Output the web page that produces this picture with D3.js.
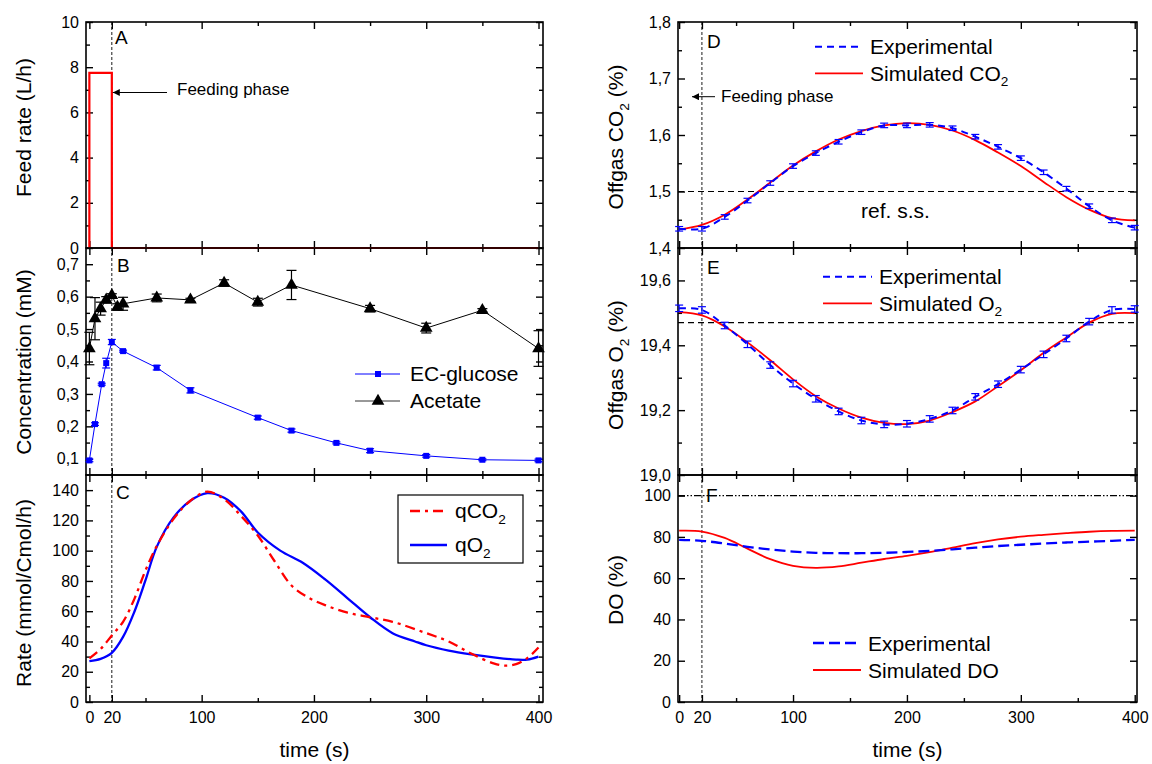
<!DOCTYPE html>
<html><head><meta charset="utf-8">
<script src="https://cdn.jsdelivr.net/npm/d3@7"></script>
<style>body{margin:0;background:#fff} svg{display:block}</style>
</head><body><svg id="c" width="1152" height="764"></svg>
<script>
// ---------------- data ----------------
const xMajor = [0, 20, 100, 200, 300, 400];
const xMinor = [50, 150, 250, 350];

// A: feed rate
const feedTime = [0, 0, 20, 20, 400];
const feedRate = [0, 7.75, 7.75, 0, 0];

// B: concentrations
const glcTime = [0, 5, 11, 15, 20, 30, 60, 90, 150, 180, 220, 250, 300, 350, 400];
const glcConc = [0.095, 0.207, 0.33, 0.395, 0.46, 0.432, 0.381, 0.311, 0.227, 0.187, 0.149, 0.125, 0.109, 0.097, 0.095];
const glcErr  = [0.004, 0.004, 0.003, 0.015, 0.008, 0.003, 0.007, 0.008, 0.005, 0.005, 0.003, 0.006, 0.004, 0.003, 0.004];
const acTime = [0, 5, 10, 15, 20, 25, 30, 60, 90, 120, 150, 180, 250, 300, 350, 400];
const acConc = [0.44, 0.532, 0.563, 0.59, 0.604, 0.568, 0.578, 0.596, 0.59, 0.642, 0.583, 0.636, 0.563, 0.503, 0.558, 0.44];
const acErr  = [0.05, 0.065, 0.02, 0.01, 0.005, 0.01, 0.02, 0.012, 0.005, 0.01, 0.012, 0.045, 0.01, 0.015, 0.005, 0.055];

// C: rates
const qCO2Time = [0, 10, 20, 30, 40, 50, 60, 75, 90, 105, 120, 135, 150, 165, 180, 195, 210, 230, 250, 270, 300, 320, 340, 360, 370, 380, 390, 400];
const qCO2 = [28.8, 35, 44, 53, 68, 87, 103, 121, 133, 139, 134, 123, 110, 93, 77, 69, 64, 59, 56, 53, 45.5, 40, 32, 25.5, 24, 25, 29, 36];
const qO2Time = [0, 10, 20, 30, 40, 50, 60, 75, 90, 105, 120, 135, 150, 170, 190, 210, 230, 250, 270, 290, 300, 320, 340, 360, 380, 390, 400];
const qO2 = [27, 28.5, 32.5, 43, 59.5, 80.5, 102.5, 122, 133, 138, 135, 126, 112, 100, 92, 81, 68.5, 56, 45.5, 40, 37.5, 34, 31.5, 29.5, 28, 28, 30];

// D, E, F: off-gas and DO (sampled every 20 s)
const gasTime = [0, 20, 40, 60, 80, 100, 120, 140, 160, 180, 200, 220, 240, 260, 280, 300, 320, 340, 360, 380, 400];
const co2Exp = [1.434, 1.434, 1.455, 1.484, 1.515, 1.545, 1.568, 1.588, 1.605, 1.617, 1.617, 1.618, 1.612, 1.597, 1.579, 1.559, 1.534, 1.505, 1.474, 1.449, 1.436];
const co2Err = [0.004, 0.004, 0.004, 0.004, 0.004, 0.004, 0.004, 0.004, 0.004, 0.004, 0.004, 0.004, 0.004, 0.004, 0.004, 0.004, 0.004, 0.004, 0.004, 0.004, 0.004];
const co2Sim = [1.433, 1.441, 1.459, 1.486, 1.516, 1.546, 1.571, 1.592, 1.607, 1.617, 1.621, 1.618, 1.608, 1.591, 1.569, 1.545, 1.517, 1.490, 1.468, 1.453, 1.449];
const o2Exp = [19.514, 19.509, 19.461, 19.403, 19.339, 19.282, 19.235, 19.196, 19.168, 19.156, 19.158, 19.173, 19.199, 19.241, 19.280, 19.325, 19.372, 19.421, 19.473, 19.509, 19.512];
const o2Err = [0.01, 0.01, 0.01, 0.01, 0.01, 0.01, 0.01, 0.01, 0.01, 0.01, 0.01, 0.01, 0.01, 0.01, 0.01, 0.01, 0.01, 0.01, 0.01, 0.01, 0.01];
const o2Sim = [19.502, 19.492, 19.458, 19.409, 19.354, 19.295, 19.243, 19.205, 19.177, 19.161, 19.157, 19.168, 19.194, 19.227, 19.274, 19.323, 19.377, 19.424, 19.470, 19.497, 19.499];
const doExp = [78.6, 78.1, 76.8, 75.2, 73.9, 72.9, 72.3, 72.1, 72.1, 72.3, 72.7, 73.2, 74.0, 74.8, 75.6, 76.2, 76.8, 77.3, 77.7, 78.1, 78.6];
const doSim = [83, 82.6, 79.5, 74.3, 69.2, 66, 65, 65.7, 67.5, 69.3, 70.8, 72.6, 74.8, 77, 78.8, 80.1, 81, 81.8, 82.5, 82.9, 83];

const co2Ref = 1.5, o2Ref = 19.47, doSat = 100;

// ---------------- drawing ----------------
const FONT = '"Liberation Sans", Arial, Helvetica, sans-serif';
const svg = d3.select('#c').style('font-family', FONT);
const comma = v => d3.format('.1f')(v).replace('.', ',');
const integer = v => d3.format('d')(v);

const defs = svg.append('defs');
defs.append('marker').attr('id', 'arr').attr('viewBox', '0 0 10 10')
  .attr('refX', 10).attr('refY', 5).attr('markerWidth', 9).attr('markerHeight', 7)
  .attr('markerUnits', 'userSpaceOnUse').attr('orient', 'auto')
  .append('path').attr('d', 'M0,0L10,5L0,10Z').attr('fill', '#000');

function panel(o) {
  const x = d3.scaleLinear().domain(o.xd).range([o.x0, o.x1]);
  const y = d3.scaleLinear().domain(o.yd).range([o.y1, o.y0]);
  const g = svg.append('g');
  const ax = (gen, tx, ty, fs) => {
    const a = g.append('g').attr('transform', `translate(${tx},${ty})`).call(gen);
    a.select('.domain').remove();
    a.selectAll('line').attr('stroke', '#000').attr('stroke-width', 1.4);
    a.selectAll('text').attr('font-size', fs || 16).attr('font-family', FONT).attr('fill', '#000');
    return a;
  };
  ax(d3.axisLeft(y).tickValues(o.yMajor).tickSize(-7).tickPadding(7).tickFormat(o.fmt), o.x0, 0);
  ax(d3.axisRight(y).tickValues(o.yMajor).tickSize(-7).tickFormat(''), o.x1, 0);
  if (o.yMinor) {
    ax(d3.axisLeft(y).tickValues(o.yMinor).tickSize(-4).tickFormat(''), o.x0, 0);
    ax(d3.axisRight(y).tickValues(o.yMinor).tickSize(-4).tickFormat(''), o.x1, 0);
  }
  ax(d3.axisTop(x).tickValues(xMajor).tickSize(-7).tickFormat(''), 0, o.y0);
  ax(d3.axisTop(x).tickValues(xMinor).tickSize(-4).tickFormat(''), 0, o.y0);
  ax(d3.axisBottom(x).tickValues(xMajor).tickSize(-7).tickPadding(10).tickFormat(o.xLabels ? integer : ''), 0, o.y1);
  ax(d3.axisBottom(x).tickValues(xMinor).tickSize(-4).tickFormat(''), 0, o.y1);
  // frame
  g.append('rect').attr('x', o.x0).attr('y', o.y0).attr('width', o.x1 - o.x0).attr('height', o.y1 - o.y0)
    .attr('fill', 'none').attr('stroke', '#000').attr('stroke-width', 1.6);
  // feeding phase marker (t = 20 s)
  g.append('line').attr('x1', x(20)).attr('x2', x(20)).attr('y1', o.y0).attr('y2', o.y1)
    .attr('stroke', '#000').attr('stroke-width', 0.9).attr('stroke-dasharray', '3,2');
  // panel letter
  g.append('text').attr('x', o.lx).attr('y', o.ly).attr('font-size', 19).text(o.letter);
  return { x, y, g };
}

function rich(sel, parts, size) {
  let prevSub = false;
  parts.forEach(([s, sub]) => {
    const t = sel.append('tspan').text(s);
    if (sub) { t.attr('font-size', size * 0.65).attr('dy', size * 0.28); prevSub = true; }
    else if (prevSub) { t.attr('dy', -size * 0.28); prevSub = false; }
  });
}

function yTitle(xc, yc, parts) {
  const t = svg.append('text').attr('transform', `translate(${xc + 7},${yc}) rotate(-90)`)
    .attr('text-anchor', 'middle').attr('font-size', 21);
  rich(t, parts, 21);
}

function legendLine(g, x1, x2, y, color, dash, width) {
  g.append('line').attr('x1', x1).attr('x2', x2).attr('y1', y).attr('y2', y)
    .attr('stroke', color).attr('stroke-width', width).attr('stroke-dasharray', dash || null);
}
function legendText(g, x, y, parts) {
  const t = g.append('text').attr('x', x).attr('y', y).attr('font-size', 21);
  rich(t, parts, 21);
}

const LX = [86, 543], RX = [678, 1137];
const xdL = [-3, 404], xdR = [-1, 402];
const rows = [[22, 248], [248, 475], [475, 702]];

// ---- A ----
const A = panel({ x0: LX[0], x1: LX[1], y0: rows[0][0], y1: rows[0][1], xd: xdL, yd: [0, 10],
  yMajor: [0, 2, 4, 6, 8, 10], yMinor: [1, 3, 5, 7, 9], fmt: integer, letter: 'A', lx: 115, ly: 44 });
A.g.append('path').datum(feedTime.map((t, i) => [t, feedRate[i]]))
  .attr('d', d3.line().x(d => A.x(d[0])).y(d => A.y(d[1])))
  .attr('fill', 'none').attr('stroke', '#ff0000').attr('stroke-width', 2.2);
A.g.append('line').attr('x1', 167).attr('x2', A.x(20) + 1).attr('y1', 92.5).attr('y2', 92.5)
  .attr('stroke', '#000').attr('stroke-width', 1).attr('marker-end', 'url(#arr)');
A.g.append('text').attr('x', 177).attr('y', 95).attr('font-size', 17).text('Feeding phase');
yTitle(24, 127.5, [['Feed rate (L/h)']]);

// ---- B ----
const B = panel({ x0: LX[0], x1: LX[1], y0: rows[1][0], y1: rows[1][1], xd: xdL, yd: [0.05, 0.75],
  yMajor: [0.1, 0.2, 0.3, 0.4, 0.5, 0.6, 0.7], yMinor: [0.15, 0.25, 0.35, 0.45, 0.55, 0.65], fmt: comma,
  letter: 'B', lx: 117, ly: 272 });
function series(P, ts, vs, es, color, symbol, size, cap) {
  const pts = ts.map((t, i) => ({ t, v: vs[i], e: es[i] }));
  P.g.append('path').datum(pts).attr('d', d3.line().x(d => P.x(d.t)).y(d => P.y(d.v)))
    .attr('fill', 'none').attr('stroke', color).attr('stroke-width', 1);
  const eb = P.g.append('g').attr('stroke', color).attr('stroke-width', 1.2);
  pts.forEach(d => {
    const X = P.x(d.t), y1 = P.y(d.v - d.e), y2 = P.y(d.v + d.e);
    eb.append('line').attr('x1', X).attr('x2', X).attr('y1', y1).attr('y2', y2);
    eb.append('line').attr('x1', X - cap).attr('x2', X + cap).attr('y1', y1).attr('y2', y1);
    eb.append('line').attr('x1', X - cap).attr('x2', X + cap).attr('y1', y2).attr('y2', y2);
  });
  P.g.append('g').selectAll('path').data(pts).join('path')
    .attr('transform', d => `translate(${P.x(d.t)},${P.y(d.v)})`)
    .attr('d', d3.symbol(symbol, size)).attr('fill', color);
}
series(B, glcTime, glcConc, glcErr, '#0000ff', d3.symbolSquare, 36, 4);
series(B, acTime, acConc, acErr, '#000', d3.symbolTriangle, 70, 5);
legendLine(B.g, 355, 400, 374, '#0000ff', null, 1);
B.g.append('path').attr('transform', 'translate(378,374)').attr('d', d3.symbol(d3.symbolSquare, 36)).attr('fill', '#0000ff');
legendText(B.g, 410, 381, [['EC-glucose']]);
legendLine(B.g, 355, 400, 401, '#333', null, 1);
B.g.append('path').attr('transform', 'translate(378,401)').attr('d', d3.symbol(d3.symbolTriangle, 70)).attr('fill', '#000');
legendText(B.g, 410, 408, [['Acetate']]);
yTitle(24, 362, [['Concentration (mM)']]);

// ---- C ----
const C = panel({ x0: LX[0], x1: LX[1], y0: rows[2][0], y1: rows[2][1], xd: xdL, yd: [0, 150],
  yMajor: [0, 20, 40, 60, 80, 100, 120, 140], yMinor: [10, 30, 50, 70, 90, 110, 130], fmt: integer,
  xLabels: true, letter: 'C', lx: 116, ly: 498.5 });
const smooth = (P) => d3.line().curve(d3.curveCatmullRom.alpha(0.5)).x(d => P.x(d[0])).y(d => P.y(d[1]));
C.g.append('path').datum(qO2Time.map((t, i) => [t, qO2[i]])).attr('d', smooth(C))
  .attr('fill', 'none').attr('stroke', '#0000ff').attr('stroke-width', 2.3);
C.g.append('path').datum(qCO2Time.map((t, i) => [t, qCO2[i]])).attr('d', smooth(C))
  .attr('fill', 'none').attr('stroke', '#ff0000').attr('stroke-width', 2.3).attr('stroke-dasharray', '10,5,3,5');
C.g.append('rect').attr('x', 398).attr('y', 495).attr('width', 125).attr('height', 68)
  .attr('fill', '#fff').attr('stroke', '#000').attr('stroke-width', 1.2);
legendLine(C.g, 410, 447, 511, '#ff0000', '10,5,3,5', 2.3);
legendText(C.g, 455, 518, [['qCO'], ['2', true]]);
legendLine(C.g, 410, 447, 545, '#0000ff', null, 2.3);
legendText(C.g, 455, 552, [['qO'], ['2', true]]);
yTitle(24, 593, [['Rate (mmol/Cmol/h)']]);
svg.append('text').attr('x', 314.5).attr('y', 757).attr('text-anchor', 'middle').attr('font-size', 21).text('time (s)');

// ---- D ----
const D = panel({ x0: RX[0], x1: RX[1], y0: rows[0][0], y1: rows[0][1], xd: xdR, yd: [1.4, 1.8],
  yMajor: [1.4, 1.5, 1.6, 1.7, 1.8], yMinor: [1.45, 1.55, 1.65, 1.75], fmt: comma, letter: 'D', lx: 707, ly: 48 });
function refLine(P, v, dash) {
  P.g.append('line').attr('x1', P.x.range()[0]).attr('x2', P.x.range()[1]).attr('y1', P.y(v)).attr('y2', P.y(v))
    .attr('stroke', '#000').attr('stroke-width', 1.1).attr('stroke-dasharray', dash);
}
function gasPlot(P, exp, err, sim) {
  const pe = gasTime.map((t, i) => [t, exp[i]]);
  P.g.append('path').datum(sim ? gasTime.map((t, i) => [t, sim[i]]) : []).attr('d', smooth(P))
    .attr('fill', 'none').attr('stroke', '#ff0000').attr('stroke-width', 1.8);
  P.g.append('path').datum(pe).attr('d', smooth(P))
    .attr('fill', 'none').attr('stroke', '#0000ff').attr('stroke-width', 2).attr('stroke-dasharray', '7,5');
  if (err) {
    const eb = P.g.append('g').attr('stroke', '#0000ff').attr('stroke-width', 1.2);
    pe.forEach((d, i) => {
      const X = P.x(d[0]), y1 = P.y(d[1] - err[i]), y2 = P.y(d[1] + err[i]);
      eb.append('line').attr('x1', X).attr('x2', X).attr('y1', y1).attr('y2', y2);
      eb.append('line').attr('x1', X - 4).attr('x2', X + 4).attr('y1', y1).attr('y2', y1);
      eb.append('line').attr('x1', X - 4).attr('x2', X + 4).attr('y1', y2).attr('y2', y2);
    });
  }
}
refLine(D, co2Ref, '6,4');
gasPlot(D, co2Exp, co2Err, co2Sim);
D.g.append('line').attr('x1', 715).attr('x2', 692).attr('y1', 96.7).attr('y2', 96.7)
  .attr('stroke', '#000').attr('stroke-width', 1).attr('marker-end', 'url(#arr)');
D.g.append('text').attr('x', 721).attr('y', 101.7).attr('font-size', 17).text('Feeding phase');
D.g.append('text').attr('x', 861).attr('y', 218).attr('font-size', 21).text('ref. s.s.');
legendLine(D.g, 815, 863, 46.7, '#0000ff', '7,5', 2);
legendText(D.g, 870, 54, [['Experimental']]);
legendLine(D.g, 815, 863, 73.3, '#ff0000', null, 1.8);
legendText(D.g, 870, 80.5, [['Simulated CO'], ['2', true]]);
yTitle(616, 137, [['Offgas CO'], ['2', true], [' (%)']]);

// ---- E ----
const E = panel({ x0: RX[0], x1: RX[1], y0: rows[1][0], y1: rows[1][1], xd: xdR, yd: [19.0, 19.7],
  yMajor: [19.0, 19.2, 19.4, 19.6], yMinor: [19.1, 19.3, 19.5], fmt: comma, letter: 'E', lx: 707, ly: 273.5 });
refLine(E, o2Ref, '6,4');
gasPlot(E, o2Exp, o2Err, o2Sim);
legendLine(E.g, 823, 872, 276.7, '#0000ff', '7,5', 2);
legendText(E.g, 879, 284, [['Experimental']]);
legendLine(E.g, 823, 872, 303.3, '#ff0000', null, 1.8);
legendText(E.g, 879, 310.5, [['Simulated O'], ['2', true]]);
yTitle(616, 365, [['Offgas O'], ['2', true], [' (%)']]);

// ---- F ----
const F = panel({ x0: RX[0], x1: RX[1], y0: rows[2][0], y1: rows[2][1], xd: xdR, yd: [0, 110],
  yMajor: [0, 20, 40, 60, 80, 100], fmt: integer, xLabels: true, letter: 'F', lx: 706, ly: 501.5 });
refLine(F, doSat, '7,2,1.5,2,1.5,2');
F.g.append('path').datum(gasTime.map((t, i) => [t, doSim[i]])).attr('d', smooth(F))
  .attr('fill', 'none').attr('stroke', '#ff0000').attr('stroke-width', 1.8);
F.g.append('path').datum(gasTime.map((t, i) => [t, doExp[i]])).attr('d', smooth(F))
  .attr('fill', 'none').attr('stroke', '#0000ff').attr('stroke-width', 2.3).attr('stroke-dasharray', '11,5');
legendLine(F.g, 813, 861, 643, '#0000ff', '11,5', 2.3);
legendText(F.g, 868, 650.5, [['Experimental']]);
legendLine(F.g, 813, 861, 670, '#ff0000', null, 1.8);
legendText(F.g, 868, 677.5, [['Simulated DO']]);
yTitle(616, 590, [['DO (%)']]);
svg.append('text').attr('x', 907.5).attr('y', 757).attr('text-anchor', 'middle').attr('font-size', 21).text('time (s)');
</script></body></html>
